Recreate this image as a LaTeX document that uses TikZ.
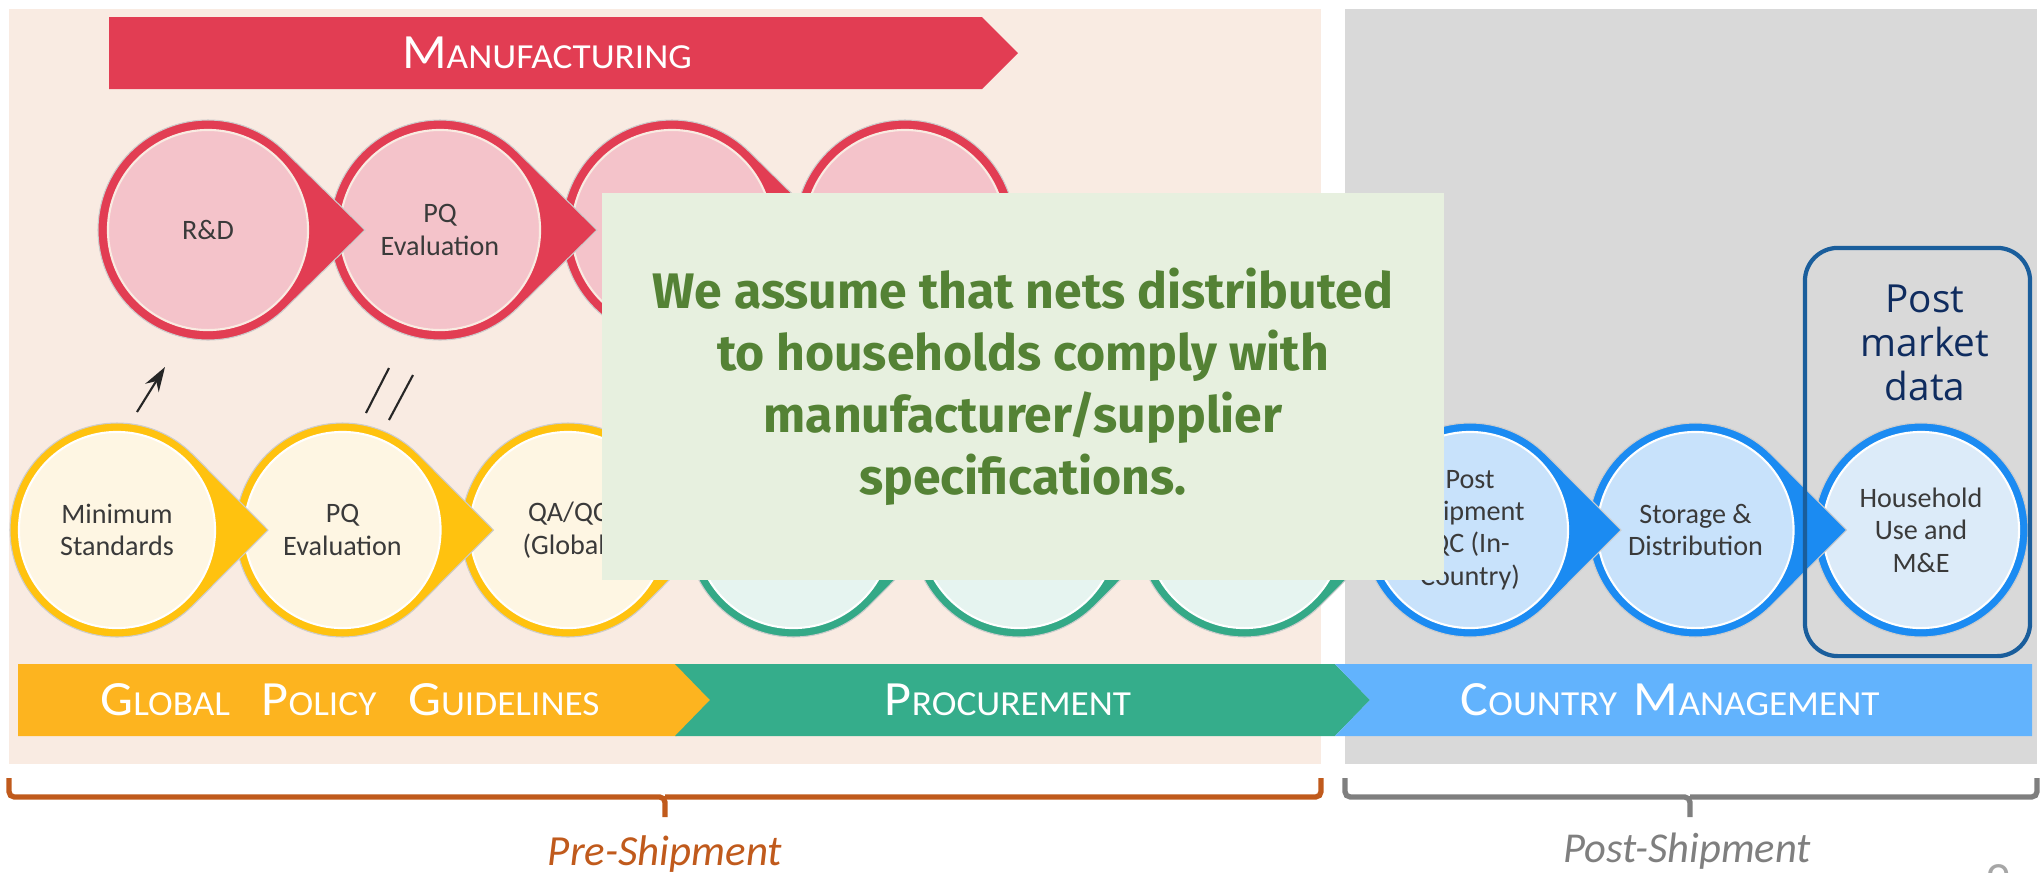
\documentclass[tikz,border=0pt]{standalone}
\usepackage{fontspec}
\setmainfont{Carlito}
\newfontfamily\notefont{Fira Sans}
\newfontfamily\boxfont{Open Sans}
\newfontfamily\bandfont[FakeStretch=1.06]{Carlito}
\usetikzlibrary{arrows.meta}

\definecolor{prebg}{HTML}{F9EBE2}
\definecolor{postbg}{HTML}{D9D9D9}
\definecolor{mfgred}{HTML}{E23D53}
\definecolor{mfgfill}{HTML}{F4C3CA}
\definecolor{gplring}{HTML}{FFC20F}
\definecolor{gplband}{HTML}{FDB41F}
\definecolor{gplfill}{HTML}{FEF6E3}
\definecolor{procring}{HTML}{34A987}
\definecolor{procband}{HTML}{35AD8B}
\definecolor{procfill}{HTML}{E6F4F0}
\definecolor{cmring}{HTML}{1B8BF2}
\definecolor{cmband}{HTML}{62B3FD}
\definecolor{cmfill}{HTML}{C8E2FB}
\definecolor{hhfill}{HTML}{DCEBF9}
\definecolor{notefill}{HTML}{E7F0DF}
\definecolor{notetext}{HTML}{548235}
\definecolor{pmnavy}{HTML}{0F2C5F}
\definecolor{pmline}{HTML}{1A5E9C}
\definecolor{preorange}{HTML}{C05A1C}
\definecolor{postgrey}{HTML}{7F7F7F}
\definecolor{labelgrey}{HTML}{3A3A3A}

% big first letter, smaller capitals after it
\newcommand\capword[2]{{\fontsize{14}{16}\selectfont #1}{\fontsize{10}{12}\selectfont #2}}

% ring pointing right: x, y, colour, radius, distance of the point
\newcommand\dropring[5]{%
  \fill[fill=#3, draw=black!20, line width=0.3pt] (#1,#2) ++(45:#4)
    arc[start angle=45, end angle=315, radius=#4] -- (#1+#5,#2) -- cycle;}

\begin{document}
\begin{tikzpicture}[x=0.01cm, y=-0.01cm,
  stage/.style={circle, inner sep=0pt, minimum size=#1, draw=white, line width=0.6pt,
    text=labelgrey, align=center, font=\fontsize{8}{9.2}\selectfont},
  bandtext/.style={text=white, inner sep=0pt, font=\bandfont},
  brace/.style={line width=1.5pt, rounded corners=1.5pt}]
  \useasboundingbox (0,0) rectangle (2041,872);

  % backgrounds
  \fill[prebg] (9,9) rectangle (1321,764);
  \fill[postbg] (1345,9) rectangle (2037,764);

  % manufacturing arrow
  \fill[mfgred] (109,17) -- (982,17) -- (1018,53) -- (982,89) -- (109,89) -- cycle;
  \node[bandtext] (mfg) at (547,53) {\capword{M}{ANUFACTURING}};

  % bands
  \fill[gplband] (18,664) -- (677,664) -- (712,700) -- (677,736) -- (18,736) -- cycle;
  \fill[procband] (675,664) -- (1335,664) -- (1370,700) -- (1335,736) -- (675,736) -- (710,700) -- cycle;
  \fill[cmband] (1335,664) -- (2032,664) -- (2032,736) -- (1335,736) -- (1370,700) -- cycle;
  \node[bandtext] (gpl) at (350,700)
    {\capword{G}{LOBAL}\hspace{0.9em}\capword{P}{OLICY}\hspace{0.9em}\capword{G}{UIDELINES}};
  \node[bandtext] (proc) at (1008,700) {\capword{P}{ROCUREMENT}};
  \node[bandtext] (cm) at (1670,700) {\capword{C}{OUNTRY}\ \ \capword{M}{ANAGEMENT}};

  % top row
  \fill[fill=mfgred, draw=black!20, line width=0.3pt] (905,230) circle[radius=110];
  \node[stage=2cm, fill=mfgfill, draw=prebg] (m4) at (905,230) {};
  \foreach \x/\lab/\n in {672/{}/3, 440/{PQ\\Evaluation}/2, 208/{R\&D}/1}{
    \dropring{\x}{230}{mfgred}{110}{157}
    \node[stage=2cm, fill=mfgfill, draw=prebg] (m\n) at (\x,230) {\lab};
  }

  % bottom row
  \fill[fill=cmring, draw=black!20, line width=0.3pt] (1921,530) circle[radius=107];
  \node[stage=1.96cm, fill=hhfill] (b9) at (1921,530) {Household\\Use and\\M\&E};
  \foreach \x/\ring/\inner/\lab/\n in {
      1695.5/cmring/cmfill/{Storage \&\\Distribution}/8,
      1470/cmring/cmfill/{Post\\Shipment\\QC (In-\\Country)}/7,
      1244.5/procring/procfill/{}/6,
      1019/procring/procfill/{}/5,
      793.5/procring/procfill/{}/4,
      568/gplring/gplfill/{QA/QC\\(Global)}/3,
      342.5/gplring/gplfill/{PQ\\Evaluation}/2,
      117/gplring/gplfill/{Minimum\\Standards}/1}{
    \dropring{\x}{530}{\ring}{107}{151}
    \node[stage=1.96cm, fill=\inner] (b\n) at (\x,530) {\lab};
  }

  % marks between the rows
  \coordinate (up1) at (137,412);
  \coordinate (up2) at (165,367);
  \draw[-{Stealth[length=7pt,width=4.5pt]}, line width=0.6pt, black!85] (up1) -- (up2);
  \coordinate (sl1) at (366,413);
  \coordinate (sl2) at (389,368);
  \coordinate (sl3) at (389,420);
  \coordinate (sl4) at (413,375);
  \draw[line width=0.6pt, black!85] (sl1) -- (sl2) (sl3) -- (sl4);

  % post market box
  \node[draw=pmline, line width=1.2pt, rounded corners=0.33cm, minimum width=2.25cm,
    minimum height=4.08cm, inner sep=0pt] (pmbox) at (1917.5,452) {};
  \node[text=pmnavy, align=center, font=\boxfont\fontsize{11}{12.5}\selectfont] (pm)
    at (1925,343) {Post\\market\\data};

  % note
  \node[fill=notefill, minimum width=8.42cm, minimum height=3.87cm, inner sep=0pt,
    text=notetext, align=center, font=\notefont\bfseries\fontsize{14.2}{17.6}\selectfont]
    (note) at (1023,386.5) {We assume that nets distributed\\to households comply with\\manufacturer/supplier\\specifications.};

  % braces
  \draw[brace, preorange] (9,778) |- (665,797) -- (665,817);
  \draw[brace, preorange] (1321,778) |- (665,797);
  \draw[brace, postgrey] (1345,778) |- (1690,797) -- (1690,817);
  \draw[brace, postgrey] (2037,778) |- (1690,797);
  \node[anchor=base, text=preorange, font=\itshape\fontsize{12.2}{14}\selectfont] (pre)
    at (665,865) {Pre-Shipment};
  \node[anchor=base, text=postgrey, font=\itshape\fontsize{12.1}{14}\selectfont] (post)
    at (1687,862) {Post-Shipment};

  \node[anchor=north, inner sep=0pt, text=black!35, font=\fontsize{14}{16}\selectfont] (pg)
    at (1998,864) {9};
\end{tikzpicture}
\end{document}
